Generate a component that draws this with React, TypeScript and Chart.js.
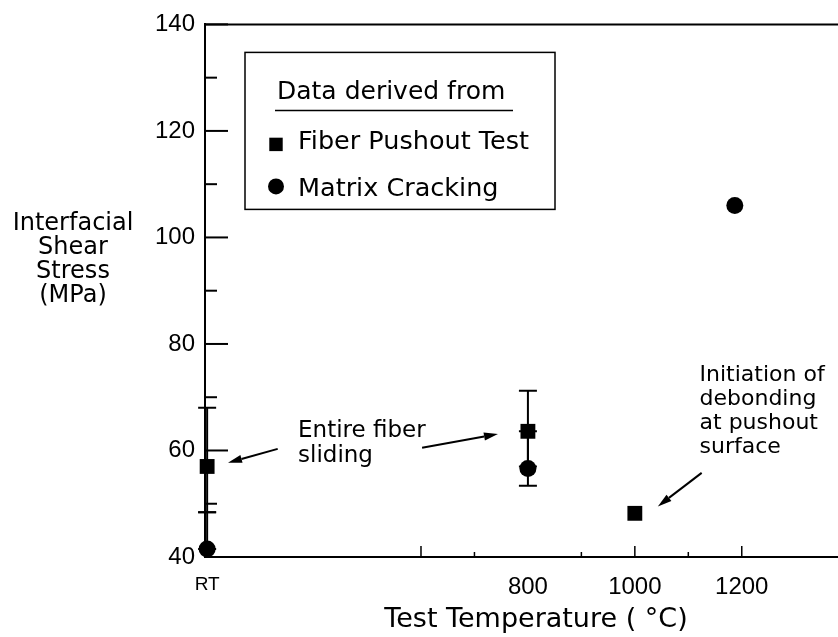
import React, { useEffect, useRef } from 'react';
import { Chart, registerables } from 'chart.js';

Chart.register(...registerables);

// ---- data ----
const seriesNames = ['Fiber Pushout Test', 'Matrix Cracking'];
const pushoutTemps = [200, 800, 1000];
const pushoutStress = [57, 63.6, 48.2];
const pushoutErrLow = [48.4, 57, null];
const pushoutErrHigh = [68, 71.2, null];
const crackingTemps = [200, 800, 1187];
const crackingStress = [41.5, 56.6, 106];
const crackingErrLow = [41.5, 53.4, null];
const crackingErrHigh = [48.4, 63.6, null];

const xTickValues = [200, 800, 1000, 1200];
const xTickLabels = ['RT', '800', '1000', '1200'];
const xMajorMarks = [600, 1000, 1200];
const xMinorMarks = [700, 900, 1100];
const yMajorTicks = [40, 60, 80, 100, 120, 140];
const yMinorTicks = [50, 70, 90, 110, 130];

const yTitleLines = ['Interfacial', 'Shear', 'Stress', '(MPa)'];
const xTitle = 'Test Temperature ( °C)';
const legendTitle = 'Data derived from';

const noteSlidingLines = ['Entire fiber', 'sliding'];
const noteSlidingAt = [370, 62.5];
const noteDebondLines = ['Initiation of', 'debonding', 'at pushout', 'surface'];
const noteDebondAt = [1121, 73.1];
const arrowTails = [[332, 60.3], [602, 60.5], [1125, 55.8]];
const arrowHeads = [[239, 57.7], [744, 63.1], [1043, 49.5]];

const SANS = '"DejaVu Sans", sans-serif';
const TICKFONT = '"Liberation Sans", Arial, sans-serif';

function drawArrow(ctx: CanvasRenderingContext2D, x1: number, y1: number, x2: number, y2: number) {
  const ang = Math.atan2(y2 - y1, x2 - x1);
  const len = 14;
  const half = 4;
  const bx = x2 - len * Math.cos(ang);
  const by = y2 - len * Math.sin(ang);
  ctx.beginPath();
  ctx.moveTo(x1, y1);
  ctx.lineTo(bx, by);
  ctx.stroke();
  ctx.beginPath();
  ctx.moveTo(x2, y2);
  ctx.lineTo(bx + half * Math.sin(ang), by - half * Math.cos(ang));
  ctx.lineTo(bx - half * Math.sin(ang), by + half * Math.cos(ang));
  ctx.closePath();
  ctx.fill();
}

function drawMarker(ctx: CanvasRenderingContext2D, style: string, x: number, y: number, r: number) {
  ctx.beginPath();
  if (style === 'rect') {
    const s = r * Math.SQRT1_2;
    ctx.rect(x - s, y - s, 2 * s, 2 * s);
  } else {
    ctx.arc(x, y, r, 0, Math.PI * 2);
  }
  ctx.fill();
}

const overlayPlugin = {
  id: 'overlay',
  beforeDatasetsDraw(chart: any) {
    const { ctx, chartArea: a, scales } = chart;
    const x = scales.x;
    const y = scales.y;
    ctx.save();
    ctx.strokeStyle = '#000';
    ctx.fillStyle = '#000';
    ctx.lineWidth = 2;
    // top frame line
    ctx.beginPath();
    ctx.moveTo(a.left, a.top);
    ctx.lineTo(a.right, a.top);
    ctx.stroke();
    // inward y ticks
    yMajorTicks.forEach((v) => {
      const py = y.getPixelForValue(v);
      ctx.beginPath();
      ctx.moveTo(a.left, py);
      ctx.lineTo(a.left + 23, py);
      ctx.stroke();
    });
    yMinorTicks.forEach((v) => {
      const py = y.getPixelForValue(v);
      ctx.beginPath();
      ctx.moveTo(a.left, py);
      ctx.lineTo(a.left + 12, py);
      ctx.stroke();
    });
    // inward x ticks
    ctx.lineWidth = 1.5;
    xMajorMarks.forEach((v) => {
      const px = x.getPixelForValue(v);
      ctx.beginPath();
      ctx.moveTo(px, a.bottom);
      ctx.lineTo(px, a.bottom - 11);
      ctx.stroke();
    });
    xMinorMarks.forEach((v) => {
      const px = x.getPixelForValue(v);
      ctx.beginPath();
      ctx.moveTo(px, a.bottom);
      ctx.lineTo(px, a.bottom - 5);
      ctx.stroke();
    });
    // error bars
    ctx.lineWidth = 2;
    chart.data.datasets.forEach((ds: any) => {
      ds.data.forEach((pt: any, i: number) => {
        const lo = ds.errLow[i];
        const hi = ds.errHigh[i];
        if (lo == null || hi == null) return;
        const px = x.getPixelForValue(pt.x);
        const pl = y.getPixelForValue(lo);
        const ph = y.getPixelForValue(hi);
        ctx.beginPath();
        ctx.moveTo(px, pl);
        ctx.lineTo(px, ph);
        ctx.moveTo(px - 9, pl);
        ctx.lineTo(px + 9, pl);
        ctx.moveTo(px - 9, ph);
        ctx.lineTo(px + 9, ph);
        ctx.stroke();
      });
    });
    ctx.restore();
  },
  afterDraw(chart: any) {
    const { ctx, chartArea: a, scales } = chart;
    const x = scales.x;
    const y = scales.y;
    ctx.save();
    ctx.fillStyle = '#000';
    ctx.strokeStyle = '#000';
    ctx.textBaseline = 'alphabetic';

    // legend box
    const bl = a.left + 40;
    const bt = a.top + 28;
    ctx.lineWidth = 1.5;
    ctx.strokeRect(bl, bt, 310, 157);
    ctx.font = `25px ${SANS}`;
    ctx.textAlign = 'left';
    ctx.fillText(legendTitle, bl + 32, bt + 47);
    ctx.beginPath();
    ctx.moveTo(bl + 30, bt + 58);
    ctx.lineTo(bl + 268, bt + 58);
    ctx.stroke();
    const markerY = [bt + 92, bt + 134];
    const textY = [bt + 97, bt + 144];
    ctx.font = `25.5px ${SANS}`;
    chart.data.datasets.forEach((ds: any, i: number) => {
      drawMarker(ctx, ds.pointStyle, bl + 31, markerY[i], ds.pointStyle === 'rect' ? 9.5 : 8);
      ctx.fillText(ds.label, bl + 53, textY[i]);
    });

    // annotations
    ctx.font = `23px ${SANS}`;
    const sx = x.getPixelForValue(noteSlidingAt[0]);
    const sy = y.getPixelForValue(noteSlidingAt[1]);
    noteSlidingLines.forEach((t, i) => ctx.fillText(t, sx, sy + i * 25));
    ctx.font = `22px ${SANS}`;
    const dx = x.getPixelForValue(noteDebondAt[0]);
    const dy = y.getPixelForValue(noteDebondAt[1]);
    noteDebondLines.forEach((t, i) => ctx.fillText(t, dx, dy + i * 24));
    ctx.lineWidth = 2;
    arrowTails.forEach((t, i) => {
      const h = arrowHeads[i];
      drawArrow(
        ctx,
        x.getPixelForValue(t[0]),
        y.getPixelForValue(t[1]),
        x.getPixelForValue(h[0]),
        y.getPixelForValue(h[1])
      );
    });

    // axis titles
    ctx.textAlign = 'center';
    ctx.font = `24px ${SANS}`;
    yTitleLines.forEach((t, i) => ctx.fillText(t, a.left - 132, a.top + 206 + i * 24));
    ctx.font = `27px ${SANS}`;
    ctx.fillText(xTitle, a.left + 331, a.bottom + 70);
    ctx.restore();
  },
};

export default function App() {
  const ref = useRef<HTMLCanvasElement | null>(null);
  useEffect(() => {
    document.body.style.margin = '0';
    if (!ref.current) return;
    const chart = new Chart(ref.current, {
      type: 'scatter',
      data: {
        datasets: [
          {
            label: seriesNames[0],
            data: pushoutTemps.map((t, i) => ({ x: t, y: pushoutStress[i] })),
            errLow: pushoutErrLow,
            errHigh: pushoutErrHigh,
            pointStyle: 'rect',
            pointRadius: 10.5,
            backgroundColor: '#000',
            borderColor: '#000',
            borderWidth: 0,
            clip: false,
          } as any,
          {
            label: seriesNames[1],
            data: crackingTemps.map((t, i) => ({ x: t, y: crackingStress[i] })),
            errLow: crackingErrLow,
            errHigh: crackingErrHigh,
            pointStyle: 'circle',
            pointRadius: 8.5,
            backgroundColor: '#000',
            borderColor: '#000',
            borderWidth: 0,
            clip: false,
          } as any,
        ],
      },
      options: {
        responsive: false,
        animation: false,
        layout: { autoPadding: false, padding: { top: 20, right: 0, left: 0, bottom: 0 } },
        plugins: {
          legend: { display: false },
          tooltip: { enabled: false },
          title: { display: false },
        },
        scales: {
          x: {
            type: 'linear',
            min: 196,
            max: 1380,
            grid: { display: false, drawTicks: false },
            border: { display: true, color: '#000', width: 2 },
            afterBuildTicks: (scale: any) => {
              scale.ticks = xTickValues.map((v) => ({ value: v }));
            },
            afterFit: (scale: any) => {
              scale.height = 80;
              scale.paddingLeft = 0;
              scale.paddingRight = 0;
            },
            ticks: {
              color: '#000',
              padding: 16,
              maxRotation: 0,
              autoSkip: false,
              font: (c: any) => ({
                family: TICKFONT,
                size: c.tick && c.tick.value === xTickValues[0] ? 19 : 24,
              }),
              callback: (v: any) => {
                const i = xTickValues.indexOf(Number(v));
                return i >= 0 ? xTickLabels[i] : '';
              },
            },
          },
          y: {
            type: 'linear',
            min: 40,
            max: 140,
            grid: { display: false, drawTicks: false },
            border: { display: true, color: '#000', width: 2 },
            afterBuildTicks: (scale: any) => {
              scale.ticks = yMajorTicks.map((v) => ({ value: v }));
            },
            afterFit: (scale: any) => {
              scale.width = 205;
            },
            ticks: {
              color: '#000',
              padding: 10,
              font: { family: TICKFONT, size: 24 },
            },
          },
        },
      },
      plugins: [overlayPlugin],
    } as any);
    return () => chart.destroy();
  }, []);
  return (
    <div style={{ width: 838, height: 637 }}>
      <canvas ref={ref} width={838} height={637} style={{ display: 'block' }} />
    </div>
  );
}
